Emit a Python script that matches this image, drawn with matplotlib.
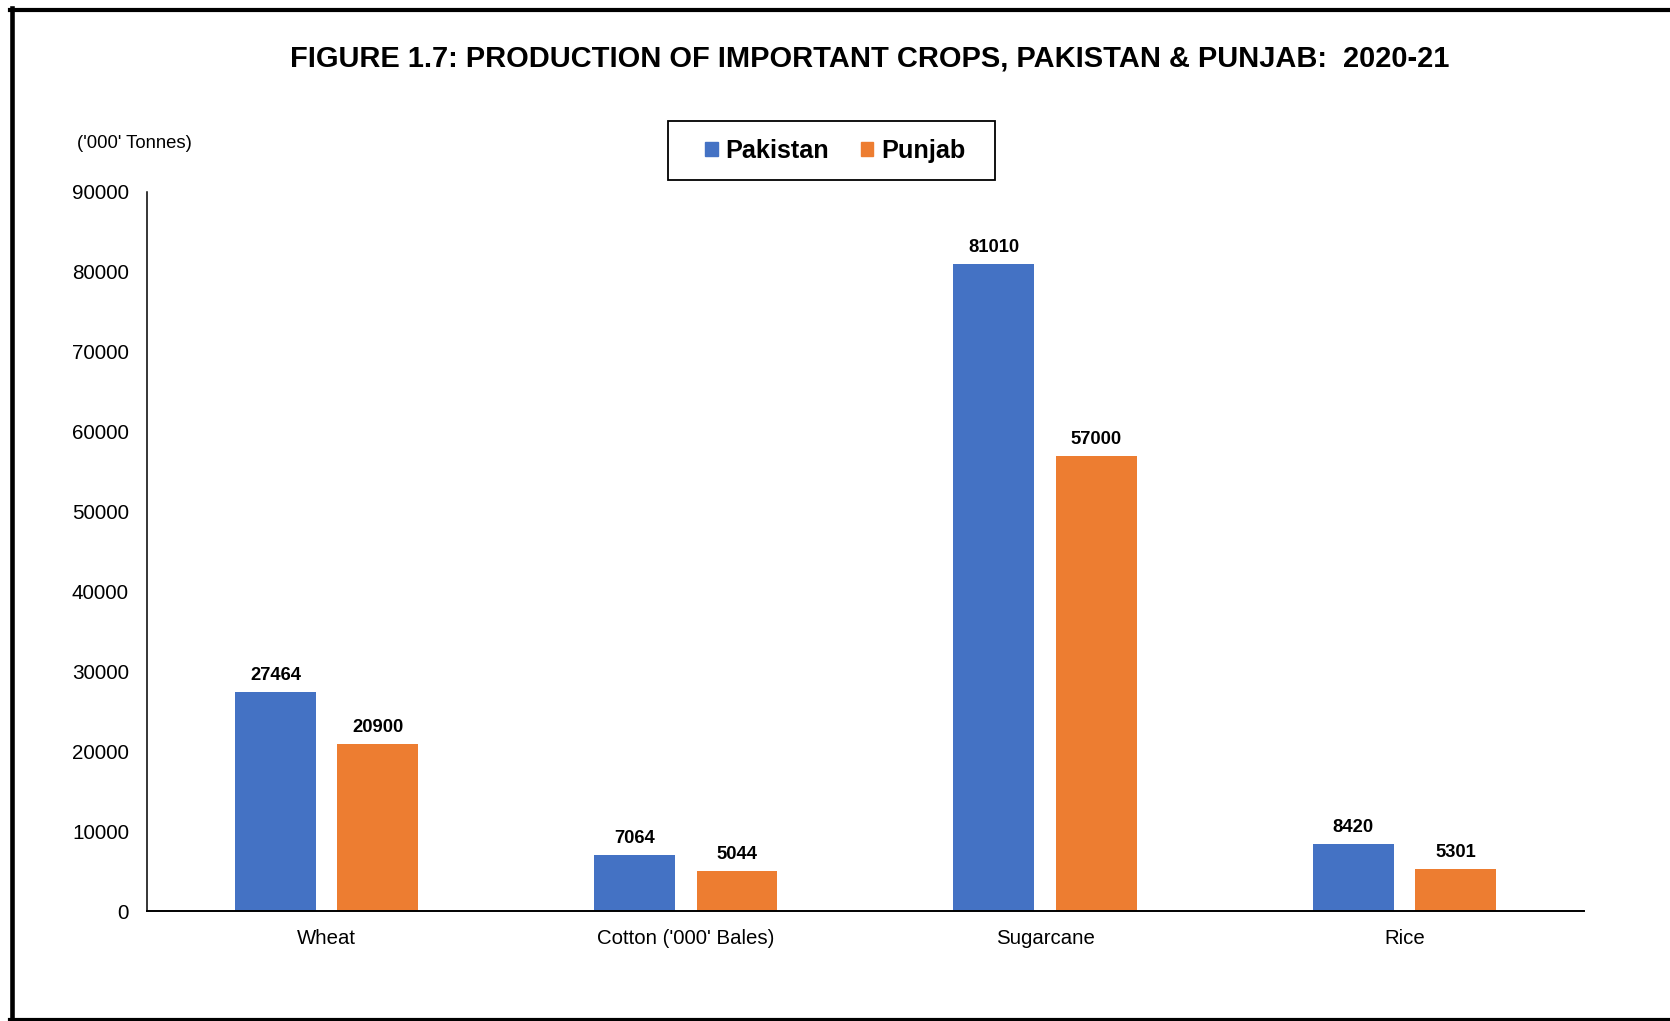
import numpy as np
import matplotlib
matplotlib.use("Agg")
import matplotlib.pyplot as plt
from matplotlib.lines import Line2D
from matplotlib.patches import Patch, Rectangle

# data
crops = ["Wheat", "Cotton ('000' Bales)", "Sugarcane", "Rice"]
pakistan = [27464, 7064, 81010, 8420]
punjab = [20900, 5044, 57000, 5301]
yticks = [0, 10000, 20000, 30000, 40000, 50000, 60000, 70000, 80000, 90000]

blue = "#4472C4"
orange = "#ED7D31"

plt.rcParams["font.family"] = ["Liberation Sans", "DejaVu Sans"]

fig = plt.figure(figsize=(16.7, 10.21), dpi=100)
ax = fig.add_axes([0.088, 0.1077, 0.8605, 0.7043])

x = np.arange(len(crops))
w = 0.225
off = 0.1425
b1 = ax.bar(x - off, pakistan, w, color=blue)
b2 = ax.bar(x + off, punjab, w, color=orange)

for bars, vals in ((b1, pakistan), (b2, punjab)):
    for bar, v in zip(bars, vals):
        ax.annotate(str(v), (bar.get_x() + bar.get_width() / 2, v),
                    xytext=(0, 11.8), textcoords="offset points",
                    ha="center", va="center", fontsize=13.2, fontweight="bold")

ax.set_xlim(-0.5, len(crops) - 0.5)
ax.set_ylim(0, 90000)
ax.set_yticks(yticks)
ax.set_yticklabels([str(t) for t in yticks])
ax.set_xticks(x)
ax.set_xticklabels(crops)
ax.tick_params(axis="y", length=0, pad=13, labelsize=14.9)
ax.tick_params(axis="x", length=0, pad=12.7, labelsize=14.7)
for s in ("top", "right"):
    ax.spines[s].set_visible(False)
ax.spines["left"].set_linewidth(1.1)
ax.spines["bottom"].set_linewidth(1.4)

fig.text(0.521, 0.9426, "FIGURE 1.7: PRODUCTION OF IMPORTANT CROPS, PAKISTAN & PUNJAB:  2020-21",
         ha="center", va="center", fontsize=20.9, fontweight="bold")
fig.text(0.046, 0.859, "('000' Tonnes)", ha="left", va="center", fontsize=13.3)

H = 1021.0
W = 1670.0

# legend: entries without frame, box drawn separately
handles = [Patch(color=blue, label="Pakistan"), Patch(color=orange, label="Punjab")]
leg = fig.legend(handles=handles, loc="center", bbox_to_anchor=(835 / W, 1 - 151 / H), ncol=2,
                 frameon=False, handlelength=0.5, handleheight=0.5,
                 handletextpad=0.3, columnspacing=1.25,
                 prop={"weight": "bold", "size": 18.2})
fig.add_artist(Rectangle((668 / W, 1 - 180 / H), (995 - 668) / W, (180 - 121) / H,
                         transform=fig.transFigure, fill=False, edgecolor="black", lw=1.3))

# outer frame (left, top, bottom only)
fig.add_artist(Line2D([11.5 / W, 11.5 / W], [1 - 8 / H, 1 - 1021 / H], color="black", lw=3.3,
                      transform=fig.transFigure))
fig.add_artist(Line2D([9.5 / W, 1.0], [1 - 10.5 / H, 1 - 10.5 / H], color="black", lw=3.0,
                      transform=fig.transFigure))
fig.add_artist(Line2D([9.5 / W, 1.0], [1 - 1019.5 / H, 1 - 1019.5 / H], color="black", lw=3.0,
                      transform=fig.transFigure))

fig.savefig("out.png", dpi=100, facecolor="white")
